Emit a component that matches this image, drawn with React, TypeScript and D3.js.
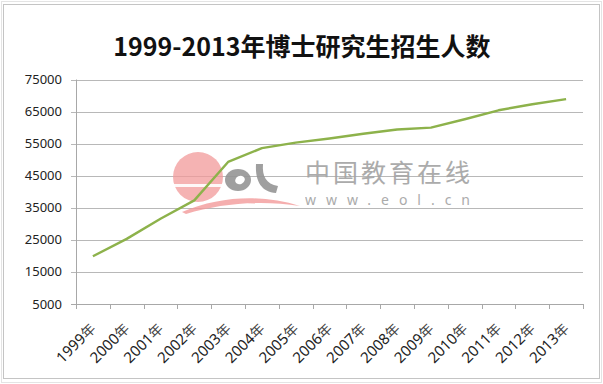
import * as d3 from "d3";

const years = ["1999", "2000", "2001", "2002", "2003", "2004", "2005", "2006",
  "2007", "2008", "2009", "2010", "2011", "2012", "2013"];
const students = [19900, 25300, 31600, 37300, 49300, 53600, 55300, 56600,
  58100, 59400, 60000, 62600, 65400, 67300, 68900];
const yTicks = [5000, 15000, 25000, 35000, 45000, 55000, 65000, 75000];
const title = "1999-2013年博士研究生招生人数";

const W = 603;
const H = 384;

const App = () => {
  const x = d3.scaleBand<string>().domain(years).range([76, 583]);
  const y = d3.scaleLinear().domain([5000, 75000]).range([304, 79.5]);

  const line = d3.line<number>()
    .x((_, i) => (x(years[i]) ?? 0) + x.bandwidth() / 2)
    .y(d => y(d));

  const tickXs = years.map(yr => x(yr) ?? 0).concat([x.range()[1]]);
  const font = "'Noto Sans', 'Noto Sans CJK SC', sans-serif";

  return (
    <svg width={W} height={H} style={{ position: "fixed", left: 0, top: 0, background: "#fff" }}>
      {/* frame */}
      <rect x={1.5} y={1.5} width={W - 3} height={H - 3} fill="none" stroke="#e4e4e4" />
      <rect x={3.5} y={4.5} width={596} height={374} fill="#fff" stroke="#c4c4c4" />

      <text x={302} y={56} textAnchor="middle" fontSize={25} fontWeight="bold"
        fontFamily="'Noto Sans CJK SC', sans-serif" fill="#111">{title}</text>

      {/* gridlines */}
      {yTicks.map(t => (
        <line key={t} x1={71} x2={583} y1={Math.round(y(t)) + 0.5} y2={Math.round(y(t)) + 0.5}
          stroke={t === 5000 ? "#a8a8a8" : "#b8b8b8"} />
      ))}
      <line x1={76.5} x2={76.5} y1={y(75000)} y2={y(5000)} stroke="#a8a8a8" />
      {tickXs.map((tx, i) => (
        <line key={i} x1={Math.round(tx) + 0.5} x2={Math.round(tx) + 0.5} y1={304} y2={309} stroke="#a8a8a8" />
      ))}

      {/* y labels */}
      {yTicks.map(t => (
        <text key={t} x={62} y={y(t)} dy="0.35em" textAnchor="end" fontSize={13}
          fontFamily={font} fill="#222">{t}</text>
      ))}

      {/* x labels */}
      {years.map(yr => {
        const cx = (x(yr) ?? 0) + x.bandwidth() / 2;
        return (
          <text key={yr} transform={`translate(${cx},${326}) rotate(-45)`} dy="0.35em"
            textAnchor="end" fontSize={15} fontFamily={font} fill="#222">
            {yr}<tspan fontSize={14} fill="#444" fontFamily="'Noto Sans CJK SC', sans-serif">年</tspan>
          </text>
        );
      })}

      {/* watermark */}
      <g>
        <circle cx={198} cy={177} r={25} fill="#f29a9a" opacity={0.75} />
        <rect x={170} y={184} width={60} height={3} fill="#fff" opacity={0.9} />
        <path d="M182,212 C220,196 262,194 300,206 C262,200 222,203 186,214 Z" fill="#f29a9a" opacity={0.8} />
        <ellipse cx={238} cy={180} rx={13} ry={11} fill="#959595" opacity={0.9} />
        <ellipse cx={240} cy={180} rx={5} ry={4} fill="#fff" transform="rotate(-25,240,180)" />
        <path d="M256,164 L263,164 C262,176 266,184 278,186 L276,193 C262,192 255,182 256,164 Z" fill="#959595" opacity={0.9} />
        <text x={305} y={182} fontSize={25} fill="#a3a3a3" opacity={0.9} textLength={165}
          fontFamily="'Noto Sans CJK SC', sans-serif">中国教育在线</text>
        <text x={305} y={205} fontSize={14} fill="#a3a3a3" opacity={0.9} textLength={165}
          lengthAdjust="spacing" fontFamily={font}>www.eol.cn</text>
      </g>

      <path d={line(students) ?? ""} fill="none" stroke="#8db24b" strokeWidth={2.4} strokeLinejoin="round" />
    </svg>
  );
};

export default App;
